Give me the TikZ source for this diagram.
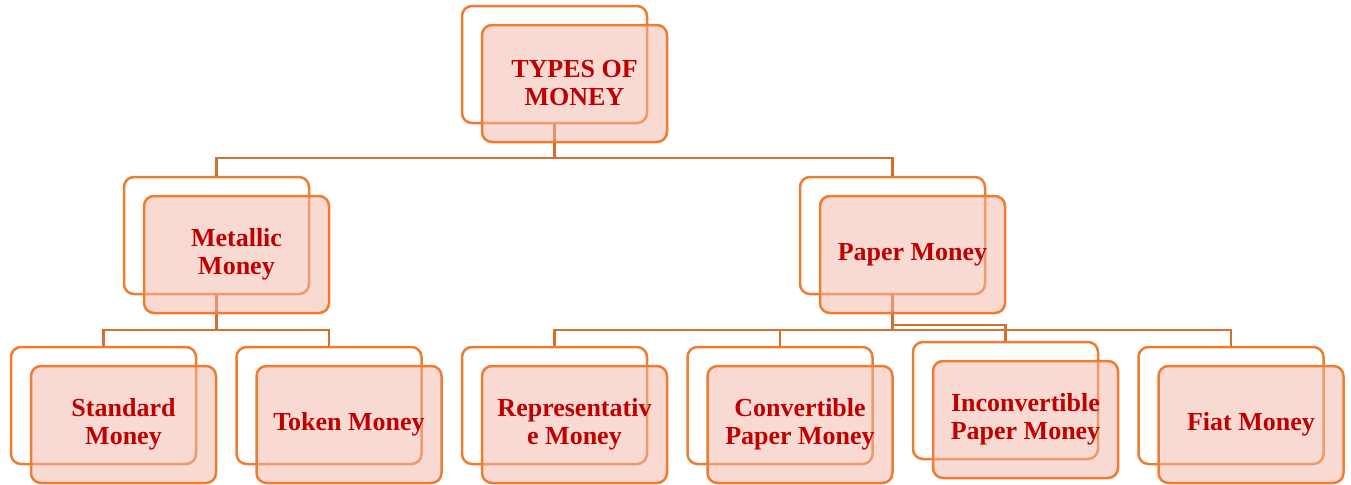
\documentclass[tikz,border=0pt]{standalone}
\usepackage{fontspec}
\setmainfont{Liberation Serif}
\usetikzlibrary{positioning}

\definecolor{boxorange}{HTML}{ED7D31}
\definecolor{linkorange}{HTML}{D4702E}
\definecolor{boxfill}{HTML}{F2B5A8}
\definecolor{textred}{HTML}{C00000}

\tikzset{
  backbox/.style={draw=boxorange, line width=1.25pt, rounded corners=5pt,
    minimum width=92.5pt, minimum height=58.5pt, inner sep=0pt},
  frontbox/.style={backbox, fill=boxfill, fill opacity=0.5, text opacity=1,
    text=textred, align=center, font=\fontsize{13}{14}\selectfont\bfseries},
  link/.style={draw=linkorange, line width=1.1pt}
}

\begin{document}
\begin{tikzpicture}[x=0.5pt, y=-0.5pt]
    \useasboundingbox (0,0) rectangle (1351,484);

    % back boxes
    \node[backbox] (types) at (554.5,64.5) {};
    \node[backbox] (metal) at (216.5,235.5) {};
    \node[backbox] (paper) at (892.5,235.5) {};
    \node[backbox] (standard) at (103.5,405.5) {};
    \node[backbox] (token) at (329,405.5) {};
    \node[backbox] (repr) at (554.5,405.5) {};
    \node[backbox] (conv) at (780,405.5) {};
    \node[backbox] (inconv) at (1005.5,400.5) {};
    \node[backbox] (fiat) at (1231,405.5) {};

    % connectors
    \coordinate (bar1) at (0,158);
    \coordinate (bar2) at (0,330);
    \coordinate (bar3) at (0,325);
    \draw[link] (types.south) -- (types.south |- bar1) -| (metal.north);
    \draw[link] (types.south |- bar1) -| (paper.north);
    \draw[link] (metal.south) -- (metal.south |- bar2) -| (standard.north);
    \draw[link] (metal.south |- bar2) -| (token.north);
    \draw[link] (paper.south) -- (paper.south |- bar2) -| (repr.north);
    \draw[link] (paper.south |- bar2) -| (conv.north);
    \draw[link] (paper.south |- bar2) -| (fiat.north);
    \draw[link] (paper.south |- bar3) -| (inconv.north);

    % front boxes
    \node[frontbox] (types-f) at (574.5,83.5) {TYPES OF\\MONEY};
    \node[frontbox] (metal-f) at (236.5,254.5) {Metallic\\Money};
    \node[frontbox] (paper-f) at (912.5,254.5) {Paper Money};
    \node[frontbox] (standard-f) at (123.5,424.5) {Standard\\Money};
    \node[frontbox] (token-f) at (349,424.5) {Token Money};
    \node[frontbox] (repr-f) at (574.5,424.5) {Representativ\\e Money};
    \node[frontbox] (conv-f) at (800,424.5) {Convertible\\Paper Money};
    \node[frontbox] (inconv-f) at (1025.5,419.5) {Inconvertible\\Paper Money};
    \node[frontbox] (fiat-f) at (1251,424.5) {Fiat Money};
\end{tikzpicture}
\end{document}
